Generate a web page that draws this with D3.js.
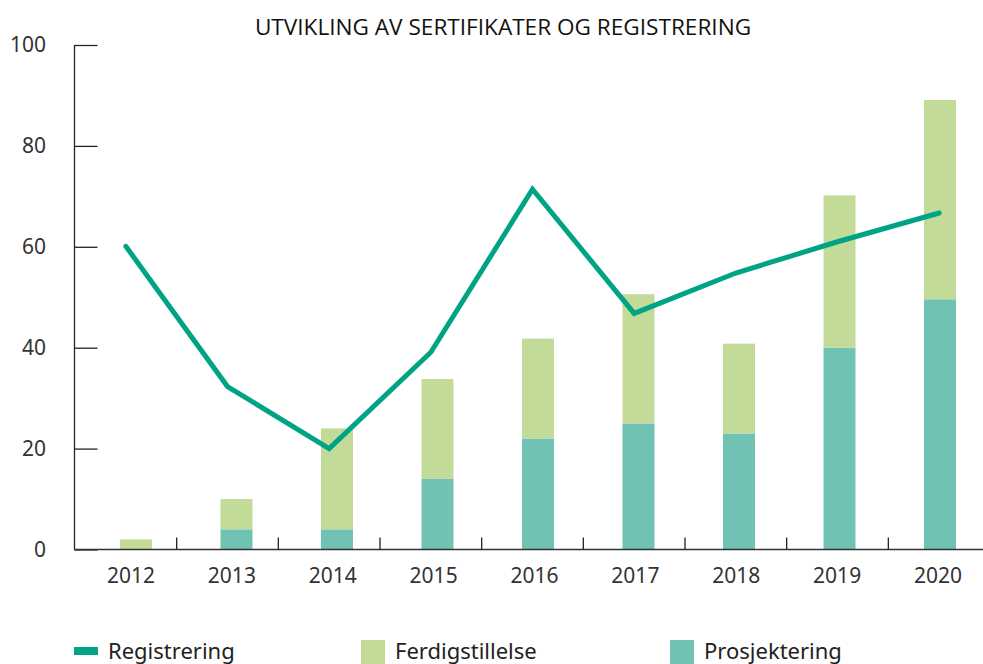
<!DOCTYPE html>
<html>
<head>
<meta charset="utf-8">
<script src="https://cdn.jsdelivr.net/npm/d3@7"></script>
<style>
  body { margin: 0; background: #fff; }
  svg { display: block; }
</style>
</head>
<body>
<div id="chart"></div>
<script>
var years = ["2012", "2013", "2014", "2015", "2016", "2017", "2018", "2019", "2020"]
var prosjektering = [0, 4, 4, 14, 22, 25, 23, 40, 49.6]
var ferdigstillelse = [2, 6, 20, 19.8, 19.8, 25.6, 17.8, 30.2, 39.5]
var registrering = [60.1, 32.3, 20, 39.1, 71.4, 46.8, 54.8, 61, 66.7]
var yTicks = [0, 20, 40, 60, 80, 100]

var width = 983, height = 664
var font = "'Noto Sans', sans-serif"
var cLine = "#00a383", cFerdig = "#c3db99", cProsj = "#70c3b4"

var svg = d3.select("#chart").append("svg")
    .attr("width", width).attr("height", height)

// band scale for line + tick marks, point scales for bars and labels
var x = d3.scaleBand().domain(years).range([75, 990])
var xBar = d3.scalePoint().domain(years).range([136, 940])
var xLab = d3.scalePoint().domain(years).range([131, 938])
var y = d3.scaleLinear().domain([0, 100]).range([549.5, 45])
var barW = 32

svg.append("text")
    .attr("x", 503).attr("y", 35)
    .attr("text-anchor", "middle")
    .attr("font-family", "'Open Sans', sans-serif")
    .attr("font-size", 22.6)
    .attr("fill", "#111")
    .text("UTVIKLING AV SERTIFIKATER OG REGISTRERING")

var stackData = years.map((yr, i) => ({year: yr, p: prosjektering[i], f: ferdigstillelse[i]}))
var series = d3.stack().keys(["p", "f"])(stackData)
var colors = {p: cProsj, f: cFerdig}

svg.append("g").selectAll("g")
    .data(series)
    .join("g")
    .attr("fill", d => colors[d.key])
    .selectAll("rect")
    .data(d => d)
    .join("rect")
    .attr("x", d => xBar(d.data.year) - barW / 2)
    .attr("width", barW)
    .attr("y", d => y(d[1]))
    .attr("height", d => y(d[0]) - y(d[1]))

// y axis
var yAxis = svg.append("g")
    .attr("transform", "translate(74.5,0)")
    .call(d3.axisRight(y).tickValues(yTicks).tickSize(23).tickFormat(""))
yAxis.select(".domain").attr("stroke", "#222").attr("stroke-width", 1.3)
    .attr("d", "M0," + y(100) + "V" + y(0))
yAxis.selectAll(".tick line").attr("stroke", "#222").attr("stroke-width", 1.3)

svg.append("g").selectAll("text")
    .data(yTicks)
    .join("text")
    .attr("x", 46).attr("y", d => y(d))
    .attr("dy", "0.35em")
    .attr("text-anchor", "end")
    .attr("font-family", font)
    .attr("font-size", 21)
    .attr("fill", "#333")
    .text(d => d)

// x axis
svg.append("line")
    .attr("x1", 74).attr("x2", 983)
    .attr("y1", y(0)).attr("y2", y(0))
    .attr("stroke", "#333").attr("stroke-width", 1.3)

svg.append("g").selectAll("line")
    .data(years.slice(0, -1))
    .join("line")
    .attr("x1", d => x(d) + x.bandwidth()).attr("x2", d => x(d) + x.bandwidth())
    .attr("y1", y(0)).attr("y2", y(0) - 12)
    .attr("stroke", "#222").attr("stroke-width", 1.3)

svg.append("g").selectAll("text")
    .data(years)
    .join("text")
    .attr("x", d => xLab(d)).attr("y", 583)
    .attr("text-anchor", "middle")
    .attr("font-family", font)
    .attr("font-size", 21)
    .attr("fill", "#333")
    .text(d => d)

// line
var line = d3.line()
    .x((d, i) => x(years[i]) + x.bandwidth() / 2)
    .y(d => y(d))

svg.append("path")
    .datum(registrering)
    .attr("fill", "none")
    .attr("stroke", cLine)
    .attr("stroke-width", 5)
    .attr("stroke-linejoin", "miter")
    .attr("stroke-linecap", "round")
    .attr("d", line)

// legend
var legend = [
  {name: "Registrering", color: cLine, x: 74, h: 8, y: 647},
  {name: "Ferdigstillelse", color: cFerdig, x: 361, h: 24, y: 640},
  {name: "Prosjektering", color: cProsj, x: 670, h: 24, y: 640}
]
var lg = svg.append("g").selectAll("g").data(legend).join("g")
lg.append("rect")
    .attr("x", d => d.x).attr("y", d => d.y)
    .attr("width", 24).attr("height", d => d.h)
    .attr("fill", d => d.color)
lg.append("text")
    .attr("x", d => d.x + 34).attr("y", 659)
    .attr("font-family", font)
    .attr("font-size", 22)
    .attr("fill", "#222")
    .text(d => d.name)
</script>
</body>
</html>
